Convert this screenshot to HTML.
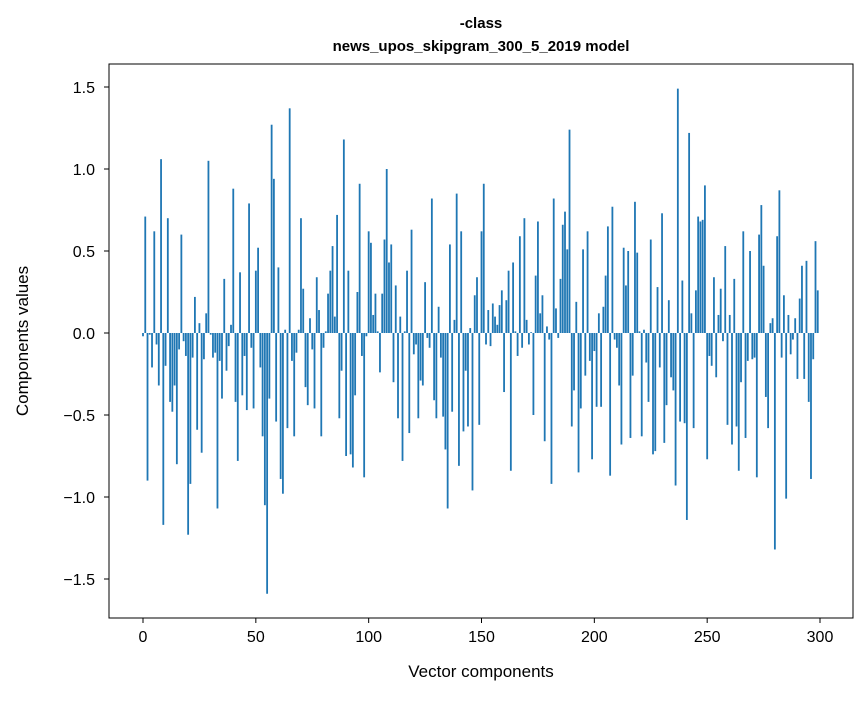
<!DOCTYPE html>
<html><head><meta charset="utf-8"><style>
html,body{margin:0;padding:0;background:#fff;}
svg text{font-family:"Liberation Sans","DejaVu Sans",sans-serif;fill:#000;}
</style></head><body>
<svg id="chart" width="867" height="696" xmlns="http://www.w3.org/2000/svg">
<rect x="0" y="0" width="867" height="696" fill="#fff"/>
<text x="481" y="28" text-anchor="middle" font-size="15" font-weight="bold">-class</text>
<text x="481" y="51" text-anchor="middle" font-size="15" font-weight="bold">news_upos_skipgram_300_5_2019 model</text>
<g id="bars"></g>
<rect x="109" y="64" width="744" height="554" fill="none" stroke="#000" stroke-width="1"/>
<g id="xticks"></g>
<g id="yticks"></g>
<text x="481" y="677" text-anchor="middle" font-size="17">Vector components</text>
<text transform="translate(28,341) rotate(-90)" text-anchor="middle" font-size="17">Components values</text>
</svg>
<script>
const values = [
-0.02,0.71,-0.90,-0.01,-0.21,0.62,-0.07,-0.32,1.06,-1.17,
-0.20,0.70,-0.42,-0.48,-0.32,-0.80,-0.10,0.60,-0.05,-0.14,
-1.23,-0.92,-0.15,0.22,-0.59,0.06,-0.73,-0.16,0.12,1.05,
-0.01,-0.15,-0.12,-1.07,-0.17,-0.40,0.33,-0.23,-0.08,0.05,
0.88,-0.42,-0.78,0.37,-0.38,-0.14,-0.47,0.79,-0.09,-0.46,
0.38,0.52,-0.21,-0.63,-1.05,-1.59,-0.40,1.27,0.94,-0.54,
0.40,-0.89,-0.98,0.02,-0.58,1.37,-0.17,-0.63,-0.12,0.02,
0.70,0.27,-0.33,-0.44,0.09,-0.10,-0.46,0.34,0.14,-0.63,
-0.09,0.01,0.24,0.38,0.53,0.10,0.72,-0.52,-0.23,1.18,
-0.75,0.38,-0.74,-0.82,-0.38,0.25,0.91,-0.14,-0.88,-0.02,
0.62,0.55,0.11,0.24,0.01,-0.24,0.24,0.57,1.00,0.43,
0.54,-0.30,0.29,-0.52,0.10,-0.78,0.01,0.38,-0.61,0.63,
-0.13,-0.07,-0.52,-0.29,-0.32,0.31,-0.03,-0.09,0.82,-0.41,
-0.52,0.16,-0.15,-0.51,-0.71,-1.07,0.54,-0.48,0.08,0.85,
-0.81,0.62,-0.60,-0.23,-0.57,0.03,-0.96,0.23,0.34,-0.56,
0.62,0.91,-0.07,0.14,-0.08,0.18,0.10,0.05,0.17,0.26,
-0.36,0.20,0.38,-0.84,0.43,0.01,-0.14,0.59,-0.09,0.70,
0.08,-0.07,0.005,-0.50,0.35,0.68,0.12,0.23,-0.66,0.04,
-0.04,-0.92,0.82,0.15,-0.03,0.33,0.66,0.74,0.51,1.24,
-0.57,-0.35,0.19,-0.85,-0.46,0.51,-0.26,0.62,-0.17,-0.77,
-0.11,-0.45,0.12,-0.45,0.16,0.35,0.65,-0.87,0.77,-0.04,
-0.09,-0.32,-0.68,0.52,0.29,0.50,-0.64,-0.26,0.80,0.49,
0.01,-0.63,0.02,-0.18,-0.42,0.57,-0.74,-0.72,0.28,-0.21,
0.73,-0.67,-0.44,0.20,-0.27,-0.35,-0.93,1.49,-0.54,0.32,
-0.55,-1.14,1.22,0.12,-0.58,0.26,0.71,0.68,0.69,0.90,
-0.77,-0.14,-0.20,0.34,-0.27,0.11,0.27,-0.05,0.53,-0.56,
0.11,-0.68,0.33,-0.57,-0.84,-0.30,0.62,-0.64,-0.17,0.50,
-0.16,-0.15,-0.88,0.60,0.78,0.41,-0.39,-0.58,0.06,0.09,
-1.32,0.59,0.87,-0.15,0.23,-1.01,0.11,-0.13,-0.04,0.09,
-0.28,0.21,0.41,-0.28,0.44,-0.42,-0.89,-0.16,0.56,0.26
];
const xTickValues = [0,50,100,150,200,250,300];
const yTickValues = [-1.5,-1.0,-0.5,0.0,0.5,1.0,1.5];
const yTickLabels = ["\u22121.5","\u22121.0","\u22120.5","0.0","0.5","1.0","1.5"];

const NS = "http://www.w3.org/2000/svg";
function xScale(v){ return 143 + v*2.2567; }
function yScale(v){ return 333 - v*164; }

const barsG = document.getElementById('bars');
values.forEach((v,i)=>{
  const r = document.createElementNS(NS,'rect');
  const x0 = xScale(i-0.4), x1 = xScale(i+0.4);
  const y0 = yScale(Math.max(v,0)), y1 = yScale(Math.min(v,0));
  r.setAttribute('x', x0);
  r.setAttribute('width', x1-x0);
  r.setAttribute('y', y0);
  r.setAttribute('height', Math.max(y1-y0,0.3));
  r.setAttribute('fill','#1f77b4');
  
  
  barsG.appendChild(r);
});

const xg = document.getElementById('xticks');
xTickValues.forEach(t=>{
  const x = xScale(t);
  const l = document.createElementNS(NS,'line');
  l.setAttribute('x1',x); l.setAttribute('x2',x);
  l.setAttribute('y1',618); l.setAttribute('y2',623);
  l.setAttribute('stroke','#000');
  
  
  xg.appendChild(l);
  const tx = document.createElementNS(NS,'text');
  tx.setAttribute('x',x); tx.setAttribute('y',642);
  tx.setAttribute('text-anchor','middle'); tx.setAttribute('font-size','16');
  tx.textContent = String(t);
  
  
  xg.appendChild(tx);
});

const yg = document.getElementById('yticks');
yTickValues.forEach((t,k)=>{
  const y = yScale(t);
  const l = document.createElementNS(NS,'line');
  l.setAttribute('x1',104); l.setAttribute('x2',109);
  l.setAttribute('y1',y); l.setAttribute('y2',y);
  l.setAttribute('stroke','#000');
  
  
  yg.appendChild(l);
  const tx = document.createElementNS(NS,'text');
  tx.setAttribute('x',95); tx.setAttribute('y',y+6);
  tx.setAttribute('text-anchor','end'); tx.setAttribute('font-size','16');
  tx.textContent = yTickLabels[k];
  
  
  yg.appendChild(tx);
});
</script>
</body></html>
